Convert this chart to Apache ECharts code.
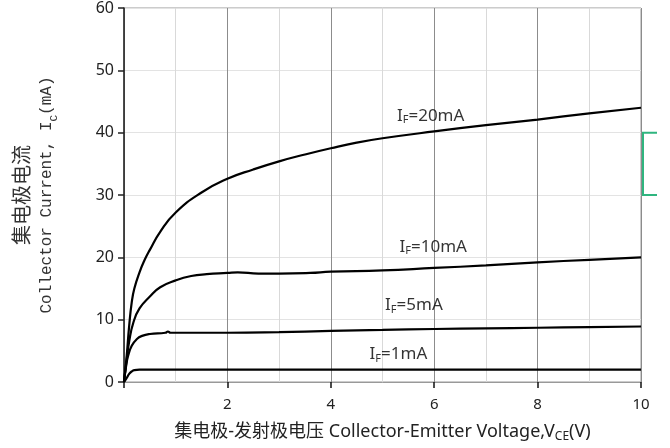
<!DOCTYPE html>
<html><head><meta charset="utf-8">
<script src="https://cdn.jsdelivr.net/npm/echarts@6/dist/echarts.min.js"></script>
<style>html,body{margin:0;padding:0;background:#fff}#c{width:670px;height:448px}</style>
</head><body><div id="c"></div>
<script>
// Data (VCE in V, IC in mA)
const if20 = [[0,0],[0.05,4],[0.1,9],[0.15,12.8],[0.2,15],[0.3,17.6],[0.4,19.6],[0.5,21.2],[0.7,24.1],[1,27.2],[1.5,30.4],[2,32.6],[2.5,34.1],[3,35.4],[3.5,36.5],[4,37.5],[4.5,38.4],[5,39.1],[6,40.2],[7,41.2],[8,42.1],[9,43.1],[10,44]];
const if10 = [[0,0],[0.05,3.5],[0.1,6.5],[0.18,9.5],[0.3,11.8],[0.5,13.7],[0.7,15.2],[1,16.3],[1.3,17.0],[1.6,17.3],[2,17.5],[2.2,17.6],[2.6,17.4],[3,17.4],[3.6,17.5],[4,17.7],[5,17.9],[6,18.3],[7,18.7],[8,19.2],[9,19.6],[10,20]];
const if5 = [[0,0],[0.04,2.5],[0.08,4.2],[0.15,5.8],[0.25,6.9],[0.35,7.4],[0.5,7.7],[0.8,7.9],[0.85,8.1],[0.9,7.9],[1.2,7.9],[2,7.9],[3,8.0],[4,8.2],[5,8.35],[6,8.5],[7,8.6],[8,8.7],[9,8.8],[10,8.9]];
const if1 = [[0,0],[0.05,0.6],[0.1,1.3],[0.15,1.7],[0.2,1.9],[0.3,2.0],[0.5,2.0],[2,2.0],[4,2.0],[6,2.0],[8,2.0],[10,2.0]];
const curveLabels = [[5.28,42.7,'20mA'],[5.33,21.7,'10mA'],[5.05,12.3,'5mA'],[4.75,4.5,'1mA']];
const xTickLabels = ['2','4','6','8','10'];
const yTicks = [0,10,20,30,40,50,60];
const bracketRange = [30,40];
const bracketX = 10;

const chart = echarts.init(document.getElementById('c'));
const lineSeries = (d) => ({type:'line', data:d, showSymbol:false, smooth:0.5,
  lineStyle:{color:'#000', width:2.2}, silent:true, z:3});
chart.setOption({
  animation:false,
  grid:{left:124, right:29, top:6, bottom:65, show:true, borderColor:'#999', borderWidth:1},
  xAxis:{type:'value', min:0, max:10, interval:2,
    axisLine:{show:true, lineStyle:{color:'#999', width:1}},
    axisTick:{show:true, length:6, lineStyle:{color:'#111', width:1.5}},
    axisLabel:{margin:15, fontSize:15, color:'#222', fontFamily:'Noto Sans',
      formatter:(v)=> xTickLabels.indexOf(String(v))>=0 ? String(v) : ''},
    splitLine:{show:true, lineStyle:{color:'#8c8c8c', width:1}},
    minorTick:{show:false, splitNumber:2},
    minorSplitLine:{show:true, lineStyle:{color:'#d9d9d9', width:1}},
    name:'{cn|集电极-发射极电压 Collector-Emitter Voltage,V}{sub|CE}{cn|(V)}',
    nameLocation:'middle', nameGap:39,
    nameTextStyle:{rich:{
      cn:{fontSize:18, color:'#222', fontFamily:'Noto Sans, Noto Sans CJK SC', lineHeight:22},
      sub:{fontSize:12, color:'#222', fontFamily:'Noto Sans', lineHeight:14, verticalAlign:'bottom'}}}
  },
  yAxis:{type:'value', min:0, max:60, interval:10,
    axisLine:{show:true, lineStyle:{color:'#222', width:1.5}},
    axisTick:{show:true, length:6, lineStyle:{color:'#222', width:1.5}},
    axisLabel:{margin:10, fontSize:16, color:'#222', fontFamily:'Noto Sans',
      formatter:(v)=> yTicks.indexOf(v)>=0 ? String(v) : ''},
    splitLine:{show:true, lineStyle:{color:'#e3e3e3', width:1}},
    name:'{cn|集电极电流}\n{en|Collector Current, I}{sub|C}{en|(mA)}',
    nameLocation:'middle', nameRotate:90, nameGap:64,
    nameTextStyle:{align:'center', rich:{
      cn:{fontSize:20, color:'#333', fontFamily:'Noto Sans CJK SC', lineHeight:26},
      en:{fontSize:16, color:'#333', fontFamily:'Liberation Mono', lineHeight:26},
      sub:{fontSize:11, color:'#333', fontFamily:'Liberation Mono', lineHeight:13, verticalAlign:'bottom'}}}
  },
  series:[
    lineSeries(if20), lineSeries(if10), lineSeries(if5), lineSeries(if1),
    {type:'scatter', data:curveLabels, symbolSize:0, silent:true, z:5,
      label:{show:true, position:'right', distance:0,
        formatter:(p)=> '{m|I}{s|F}{m|=' + p.data[2] + '}',
        rich:{m:{fontSize:17, color:'#000', fontFamily:'Noto Sans', lineHeight:20},
              s:{fontSize:11, color:'#000', fontFamily:'Noto Sans', lineHeight:12, verticalAlign:'bottom'}}}}
  ]
});
const pTop = chart.convertToPixel({gridIndex:0}, [bracketX, bracketRange[1]]);
const pBot = chart.convertToPixel({gridIndex:0}, [bracketX, bracketRange[0]]);
const bx = pTop[0] + 2;
chart.setOption({graphic:[{type:'polyline', z:10,
  shape:{points:[[bx+14,pTop[1]],[bx,pTop[1]],[bx,pBot[1]],[bx+14,pBot[1]]]},
  style:{stroke:'#2fb57f', lineWidth:2, fill:null}}]});
</script></body></html>
